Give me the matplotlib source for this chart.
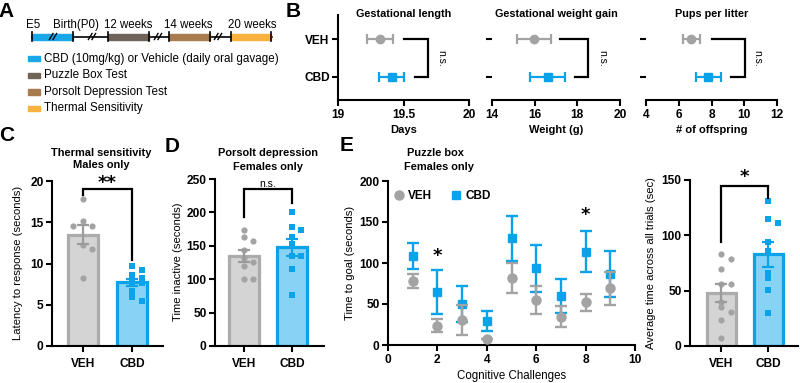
import matplotlib
matplotlib.use("Agg")
import matplotlib.pyplot as plt
from matplotlib.lines import Line2D
import numpy as np

plt.rcParams['font.family'] = ['Liberation Sans', 'DejaVu Sans']
plt.rcParams['axes.linewidth'] = 1.5

# ---------------- data ----------------
groups = ["VEH", "CBD"]

# Panel B (mean, error)
gest_len_mean = [19.32, 19.41]
gest_len_err = [0.10, 0.095]
gest_wt_mean = [15.95, 16.62]
gest_wt_err = [0.80, 0.82]
pups_mean = [6.77, 7.80]
pups_err = [0.50, 0.76]

# Panel C
thermal_veh = [17.8, 15.1, 14.6, 14.6, 12.2, 11.8, 8.3]
thermal_cbd = [9.7, 9.2, 8.6, 8.3, 7.7, 7.6, 6.7, 6.0, 5.5]

# Panel D
porsolt_veh = [174, 163, 157, 143, 131, 126, 120, 101, 101]
porsolt_cbd = [200, 178, 174, 163, 152, 134, 134, 116, 77]

# Panel E
challenges = [1, 2, 3, 4, 5, 6, 7, 8, 9]
pz_veh_mean = [78, 23.5, 30.5, 7, 82, 55, 34.5, 52, 69]
pz_veh_sem = [8, 8, 18.5, 0, 18, 17.5, 13, 10.5, 20.5]
pz_cbd_mean = [108.5, 65, 50, 29, 130, 93.5, 60, 114, 87]
pz_cbd_sem = [16, 27, 22.5, 12.5, 27.5, 28.5, 20.5, 25.5, 28]

# Panel F
avg_veh = [82.8, 78.5, 70, 55.6, 55.6, 39.9, 34.8, 30.8, 23.9, 7.6]
avg_cbd = [131, 115, 111, 94, 86, 66, 61, 51, 30]

# ---------------- style ----------------
BLUE = "#0AA2E8"
LBLUE = "#86D3F5"
GRAY = "#A3A3A3"
DGRAY = "#9B9B9B"
LGRAY = "#D4D4D4"
EGRAY = "#ABABAB"

W, H = 800, 383
fig = plt.figure(figsize=(W / 100, H / 100), dpi=100)


def px_axes(l, t, r, b):
    return fig.add_axes([l / W, 1 - b / H, (r - l) / W, (b - t) / H])


def ftext(x, y, s, **kw):
    return fig.text(x / W, 1 - y / H, s, **kw)


TICKFS = 8.6


def style_axes(ax, xpad=2.5):
    for s in ("top", "right"):
        ax.spines[s].set_visible(False)
    ax.tick_params(direction="out", length=4, width=1.5, labelsize=TICKFS, pad=2)
    ax.tick_params(axis="x", pad=xpad)
    for lab in ax.get_xticklabels() + ax.get_yticklabels():
        lab.set_fontweight("bold")


def swarm(values, px_per_y, px_per_x, diam=5.0, step=9.5):
    order = np.argsort(values)[::-1]
    placed = []
    offs = np.zeros(len(values))
    cand = [0, 1, -1, 2, -2, 3, -3]
    for i in order:
        v = values[i]
        for c in cand:
            ox = c * step
            ok = True
            for (pv, po) in placed:
                dy = (v - pv) * px_per_y
                dx = ox - po
                if dx * dx + dy * dy < diam * diam:
                    ok = False
                    break
            if ok:
                placed.append((v, ox))
                offs[i] = ox / px_per_x
                break
    return offs


def bar_panel(ax, veh, cbd, ymax, px_h, px_w, xlim):
    ax.set_xlim(*xlim)
    ax.set_ylim(0, ymax)
    ppy = px_h / ymax
    ppx = px_w / (xlim[1] - xlim[0])
    data = [veh, cbd]
    for i, vals in enumerate(data):
        vals = np.array(vals, float)
        m = vals.mean()
        sem = vals.std(ddof=1) / np.sqrt(len(vals))
        fc = LGRAY if i == 0 else LBLUE
        ec = EGRAY if i == 0 else BLUE
        ax.bar(i, m, width=0.62, color=fc, edgecolor=ec, linewidth=2.3, zorder=1)
        offs = swarm(vals, ppy, ppx)
        ax.scatter(i + offs, vals, s=20, marker="o" if i == 0 else "s",
                   color=GRAY if i == 0 else BLUE, linewidths=0, zorder=3)
        ax.errorbar(i, m, yerr=sem, color=DGRAY if i == 0 else BLUE, capsize=4.5,
                    capthick=1.6, elinewidth=1.6, zorder=4)
    ax.set_xticks([0, 1])
    ax.set_xticklabels(groups)


def bracket(ax, x0, x1, ylo0, ylo1, ytop, label, ly, fs, bold=True, font=None):
    ax.plot([x0, x0, x1, x1], [ylo0, ytop, ytop, ylo1], color="black", lw=1.6,
            clip_on=False, zorder=5, solid_joinstyle="miter")
    kw = dict(ha="center", va="center", fontsize=fs,
              fontweight="bold" if bold else "normal")
    if font:
        kw["family"] = font
    ax.text((x0 + x1) / 2, ly, label, clip_on=False, **kw)


# ---------------- Panel A ----------------
axA = px_axes(0, 0, 285, 118)
axA.set_xlim(0, 285)
axA.set_ylim(118, 0)
axA.axis("off")
tl_y = 36.5
axA.plot([32, 272], [tl_y, tl_y], color="black", lw=1.2)
segs = [(32, 73, "#1AA7E8"), (108, 149, "#6F6457"), (169, 210, "#A87C4F"), (231, 271, "#F8B13D")]
for x0, x1, c in segs:
    axA.add_patch(plt.Rectangle((x0, tl_y - 3), x1 - x0, 6, color=c, zorder=2))
    for xx in (x0, x1):
        axA.plot([xx, xx], [tl_y - 4.5, tl_y + 4.5], color="black", lw=1.2, zorder=3)
for bx in (53, 92, 158, 218):
    for d in (-1.8, 1.8):
        axA.plot([bx + d - 1.8, bx + d + 1.8], [tl_y + 3, tl_y - 3], color="black", lw=1.0, zorder=4)
tl_labels = [("E5", 32.7), ("Birth(P0)", 75.5), ("12 weeks", 128), ("14 weeks", 188), ("20 weeks", 252)]
for s, x in tl_labels:
    axA.text(x, 28, s, ha="center", va="baseline", fontsize=8.3)
leg_items = [("CBD (10mg/kg) or Vehicle (daily oral gavage)", "#1AA7E8"),
             ("Puzzle Box Test", "#6F6457"),
             ("Porsolt Depression Test", "#A87C4F"),
             ("Thermal Sensitivity", "#F8B13D")]
for k, (s, c) in enumerate(leg_items):
    yy = 58.7 + k * 16.6
    axA.add_patch(plt.Rectangle((27.5, yy - 2.8), 12.5, 5.6, color=c))
    axA.text(44, yy, s, ha="left", va="center", fontsize=8.4)

# ---------------- Panel B ----------------
b_specs = [
    ((338, 15, 469, 100), gest_len_mean, gest_len_err, (19, 20), [19, 19.5, 20], ["19", "19.5", "20"],
     "Gestational length", "Days", (19.5, 19.69, 19.59), 19.79),
    ((492, 15, 620, 100), gest_wt_mean, gest_wt_err, (14, 20), [14, 16, 18, 20], ["14", "16", "18", "20"],
     "Gestational weight gain", "Weight (g)", (17.2, 18.5, 17.9), 19.19),
    ((646, 15, 777, 100), pups_mean, pups_err, (4, 12), [4, 6, 8, 10, 12], ["4", "6", "8", "10", "12"],
     "Pups per litter", "# of offspring", (8.05, 10.05, 9.2), 10.82),
]
for j, (box, mean, err, xl, xt, xtl, title, xlab, br, nsx) in enumerate(b_specs):
    ax = px_axes(*box)
    ax.set_xlim(*xl)
    ax.set_ylim(-0.62, 1.65)
    ax.errorbar(mean[0], 1, xerr=err[0], fmt="o", ms=6, color=GRAY, capsize=3.5,
                elinewidth=1.6, capthick=1.6, clip_on=False)
    ax.errorbar(mean[1], 0, xerr=err[1], fmt="s", ms=5.5, color=BLUE, capsize=3.5,
                elinewidth=1.6, capthick=1.6, clip_on=False)
    ax.plot([br[0], br[1], br[1], br[2]], [1, 1, 0, 0], color="black", lw=1.6, solid_joinstyle="miter")
    ax.text(nsx, 0.5, "n.s.", rotation=270, ha="center", va="center", fontsize=7.5)
    ax.set_xticks(xt)
    ax.set_xticklabels(xtl)
    ax.set_yticks([1, 0])
    ax.set_yticklabels(groups if j == 0 else ["", ""])
    style_axes(ax)
    if j > 0:
        ax.spines["left"].set_visible(False)
    ax.set_xlabel(xlab, fontsize=8, fontweight="bold", labelpad=3)
    ax.text(0.5, 1.012, title, transform=ax.transAxes, ha="center", va="center",
            fontsize=7.8, fontweight="bold")

# ---------------- Panel C ----------------
axC = px_axes(52, 181, 163, 346)
bar_panel(axC, thermal_veh, thermal_cbd, 20, 165, 111, (-0.63, 1.63))
axC.set_yticks([0, 5, 10, 15, 20])
style_axes(axC, xpad=4.5)
bracket(axC, 0, 1, 18.3, 10.4, 19.0, "**", 19.75, 13, font="DejaVu Sans")

# ---------------- Panel D ----------------
axD = px_axes(215, 179, 324, 346)
bar_panel(axD, porsolt_veh, porsolt_cbd, 250, 167, 109, (-0.6, 1.67))
axD.set_yticks([0, 50, 100, 150, 200, 250])
style_axes(axD, xpad=4.5)
bracket(axD, 0, 1, 193, 214, 234.6, "n.s.", 242, 7.5, bold=False)

# ---------------- Panel E ----------------
axE = px_axes(388, 181, 635, 345)
axE.set_xlim(0, 10)
axE.set_ylim(0, 200)
axE.errorbar(challenges, pz_cbd_mean, yerr=pz_cbd_sem, fmt="s", ms=6, color=BLUE,
             capsize=4, elinewidth=1.7, capthick=1.7, zorder=3)
axE.errorbar(challenges, pz_veh_mean, yerr=pz_veh_sem, fmt="o", ms=6.5, color=GRAY,
             capsize=4, elinewidth=1.7, capthick=1.7, zorder=4)
axE.set_xticks([0, 2, 4, 6, 8, 10])
axE.set_yticks([0, 50, 100, 150, 200])
style_axes(axE)
axE.text(2, 109, "*", ha="center", va="center", fontsize=13, fontweight="bold", family="DejaVu Sans")
axE.text(8, 158, "*", ha="center", va="center", fontsize=13, fontweight="bold", family="DejaVu Sans")
hv = Line2D([], [], marker="o", ls="none", color=GRAY, ms=6.5)
hc = Line2D([], [], marker="s", ls="none", color=BLUE, ms=6)
axE.legend([hv, hc], groups, loc="center left", bbox_to_anchor=(0.01, 0.908), ncol=2,
           frameon=False, handlelength=0.8, handletextpad=0.4, columnspacing=1.6,
           borderpad=0, borderaxespad=0.3, prop={"weight": "bold", "size": 8.5})
axE.set_xlabel("Cognitive Challenges", fontsize=8.3, labelpad=3)

# ---------------- Panel F ----------------
axF = px_axes(690, 180, 798, 346)
bar_panel(axF, avg_veh, avg_cbd, 150, 166, 108, (-0.66, 1.63))
axF.set_yticks([0, 50, 100, 150])
style_axes(axF, xpad=4.5)
bracket(axF, 0, 1, 94, 134, 144.6, "*", 153, 13, font="DejaVu Sans")

# ---------------- texts ----------------
YLFS = 8.1
ftext(18, 263, "Latency to response (seconds)", rotation=90, ha="center", va="center", fontsize=YLFS)
ftext(178, 262, "Time inactive (seconds)", rotation=90, ha="center", va="center", fontsize=YLFS)
ftext(350, 263, "Time to goal (seconds)", rotation=90, ha="center", va="center", fontsize=YLFS)
ftext(651, 263, "Average time across all trials (sec)", rotation=90, ha="center", va="center", fontsize=YLFS)

TFS = 7.9
ftext(101, 152.7, "Thermal sensitivity", ha="center", va="center", fontsize=TFS, fontweight="bold")
ftext(101, 165.5, "Males only", ha="center", va="center", fontsize=TFS, fontweight="bold")
ftext(267.5, 152.7, "Porsolt depression", ha="center", va="center", fontsize=TFS, fontweight="bold")
ftext(267.5, 167.5, "Females only", ha="center", va="center", fontsize=TFS, fontweight="bold")
ftext(435, 152.7, "Puzzle box", ha="center", va="center", fontsize=TFS, fontweight="bold")
ftext(439, 167, "Females only", ha="center", va="center", fontsize=TFS, fontweight="bold")

LFS = 15
for s, x, y in [("A", 6.5, 11.5), ("B", 293, 11.5), ("C", 7, 135.5), ("D", 172, 146), ("E", 347, 145.5)]:
    ftext(x, y, s, ha="center", va="center", fontsize=LFS, fontweight="bold")

fig.savefig("out.png", dpi=100)
